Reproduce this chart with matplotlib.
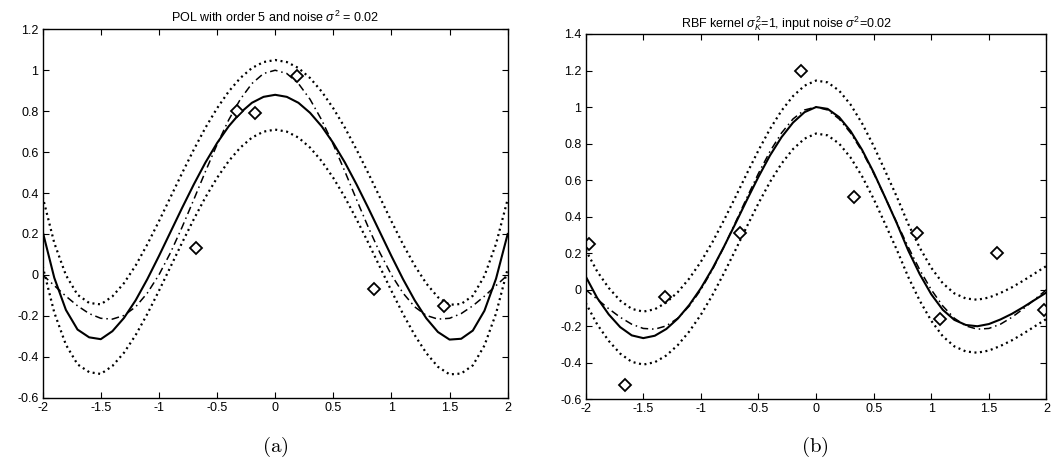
import numpy as np
import matplotlib
matplotlib.use('Agg')
import matplotlib.pyplot as plt
from matplotlib.ticker import FuncFormatter

plt.rcParams['font.family'] = ['Liberation Sans', 'DejaVu Sans']
plt.rcParams['axes.unicode_minus'] = False
plt.rcParams['mathtext.fontset'] = 'custom'
plt.rcParams['mathtext.rm'] = 'Liberation Sans'
plt.rcParams['mathtext.it'] = 'Liberation Sans:italic'

# sample positions, step 0.1 from -2 to 2
x_grid = np.linspace(-2, 2, 41)

# true function (dash-dot), same in both panels
true_y = [0.000, -0.052, -0.104, -0.151, -0.189, -0.212, -0.216, -0.198, -0.156, -0.089,
          0.000, 0.109, 0.234, 0.368, 0.505, 0.637, 0.757, 0.858, 0.935, 0.984,
          1.000,
          0.984, 0.935, 0.858, 0.757, 0.637, 0.505, 0.368, 0.234, 0.109, 0.000,
          -0.089, -0.156, -0.198, -0.216, -0.212, -0.189, -0.151, -0.104, -0.052, 0.000]

# (a) polynomial model, order 5
pol_mean = [0.212, -0.014, -0.171, -0.267, -0.305, -0.314, -0.275, -0.210, -0.124, -0.021,
            0.092, 0.210, 0.328, 0.442, 0.549, 0.644, 0.726, 0.792, 0.841, 0.870,
            0.880,
            0.870, 0.841, 0.792, 0.726, 0.644, 0.549, 0.442, 0.328, 0.210, 0.092,
            -0.021, -0.124, -0.212, -0.279, -0.316, -0.312, -0.272, -0.175, -0.018, 0.200]
pol_upper = [0.382, 0.156, -0.001, -0.097, -0.137, -0.144, -0.105, -0.040, 0.046, 0.149,
             0.262, 0.380, 0.498, 0.612, 0.719, 0.814, 0.896, 0.962, 1.011, 1.040,
             1.050,
             1.040, 1.011, 0.962, 0.896, 0.814, 0.719, 0.612, 0.498, 0.380, 0.262,
             0.149, 0.046, -0.042, -0.109, -0.146, -0.142, -0.102, -0.005, 0.152, 0.370]
pol_lower = [0.042, -0.184, -0.341, -0.437, -0.475, -0.484, -0.445, -0.380, -0.294, -0.191,
             -0.078, 0.040, 0.158, 0.272, 0.379, 0.474, 0.556, 0.622, 0.671, 0.700,
             0.710,
             0.700, 0.671, 0.622, 0.556, 0.474, 0.379, 0.272, 0.158, 0.040, -0.078,
             -0.191, -0.294, -0.382, -0.449, -0.486, -0.482, -0.442, -0.345, -0.188, 0.030]
pol_pts_x = [-0.68, -0.33, -0.17, 0.19, 0.85, 1.45]
pol_pts_y = [0.13, 0.80, 0.79, 0.97, -0.07, -0.15]

# (b) GP with RBF kernel
gp_mean = [0.073, -0.045, -0.135, -0.205, -0.250, -0.265, -0.252, -0.215, -0.158, -0.083,
           0.008, 0.115, 0.235, 0.362, 0.492, 0.618, 0.735, 0.835, 0.915, 0.972,
           1.000,
           0.990, 0.945, 0.868, 0.765, 0.642, 0.505, 0.365, 0.215, 0.085, -0.025,
           -0.110, -0.165, -0.193, -0.200, -0.188, -0.163, -0.132, -0.095, -0.055, -0.015]
gp_upper = [0.218, 0.100, 0.010, -0.060, -0.105, -0.120, -0.107, -0.070, -0.013, 0.062,
            0.153, 0.260, 0.380, 0.507, 0.637, 0.763, 0.880, 0.980, 1.060, 1.117,
            1.145,
            1.135, 1.090, 1.013, 0.910, 0.787, 0.650, 0.510, 0.360, 0.230, 0.120,
            0.035, -0.020, -0.048, -0.055, -0.043, -0.018, 0.013, 0.050, 0.090, 0.130]
gp_lower = [-0.072, -0.190, -0.280, -0.350, -0.395, -0.410, -0.397, -0.360, -0.303, -0.228,
            -0.137, -0.030, 0.090, 0.217, 0.347, 0.473, 0.590, 0.690, 0.770, 0.827,
            0.855,
            0.845, 0.800, 0.723, 0.620, 0.497, 0.360, 0.220, 0.070, -0.060, -0.170,
            -0.255, -0.310, -0.338, -0.345, -0.333, -0.308, -0.277, -0.240, -0.200, -0.160]
gp_pts_x = [-1.97, -1.66, -1.31, -0.66, -0.13, 0.33, 0.88, 1.08, 1.57, 1.98]
gp_pts_y = [0.25, -0.52, -0.04, 0.31, 1.20, 0.51, 0.31, -0.16, 0.20, -0.11]

x_ticks = [-2, -1.5, -1, -0.5, 0, 0.5, 1, 1.5, 2]
y_ticks_a = [-0.6, -0.4, -0.2, 0, 0.2, 0.4, 0.6, 0.8, 1, 1.2]
y_ticks_b = [-0.6, -0.4, -0.2, 0, 0.2, 0.4, 0.6, 0.8, 1, 1.2, 1.4]


def matlab_fmt(v, pos):
    return '%g' % round(v, 2)


def draw_panel(ax, mean, upper, lower, px, py, yticks, title):
    dotted = dict(color='black', lw=1.6, linestyle=(0, (0.9, 1.6)),
                  solid_joinstyle='round')
    ax.plot(x_grid, upper, **dotted)
    ax.plot(x_grid, lower, **dotted)
    ax.plot(x_grid, true_y, color='black', lw=1.1,
            linestyle=(0, (5, 2.5, 1, 2.5)), dash_joinstyle='round')
    ax.plot(x_grid, mean, color='black', lw=1.5, solid_joinstyle='round')
    ax.plot(px, py, linestyle='none', marker='D', markersize=6.5,
            markerfacecolor='white', markeredgecolor='black', markeredgewidth=1.3)
    ax.set_xlim(-2, 2)
    ax.set_ylim(yticks[0], yticks[-1])
    ax.set_xticks(x_ticks)
    ax.set_yticks(yticks)
    ax.xaxis.set_major_formatter(FuncFormatter(matlab_fmt))
    ax.yaxis.set_major_formatter(FuncFormatter(matlab_fmt))
    ax.tick_params(direction='in', top=True, right=True, length=4, width=0.8,
                   labelsize=9, pad=3)
    for s in ax.spines.values():
        s.set_linewidth(1.0)
    ax.set_title(title, fontsize=9, pad=5)


fig = plt.figure(figsize=(10.61, 4.72), dpi=100)
ax1 = fig.add_axes([0.0402, 0.1574, 0.4383, 0.7805])
ax2 = fig.add_axes([0.552, 0.154, 0.4343, 0.774])

draw_panel(ax1, pol_mean, pol_upper, pol_lower, pol_pts_x, pol_pts_y, y_ticks_a,
           r'POL with order 5 and noise $\sigma^2$ = 0.02')
draw_panel(ax2, gp_mean, gp_upper, gp_lower, gp_pts_x, gp_pts_y, y_ticks_b,
           r'RBF kernel $\sigma^2_K$=1, input noise $\sigma^2$=0.02')
ax2.title.set_x(0.437)

fig.text(275 / 1061, 1 - 447 / 472, r'$\mathrm{(a)}$', ha='center', va='center',
         fontsize=15, math_fontfamily='cm')
fig.text(815 / 1061, 1 - 447 / 472, r'$\mathrm{(b)}$', ha='center', va='center',
         fontsize=15, math_fontfamily='cm')

fig.savefig('out.png', dpi=100)
